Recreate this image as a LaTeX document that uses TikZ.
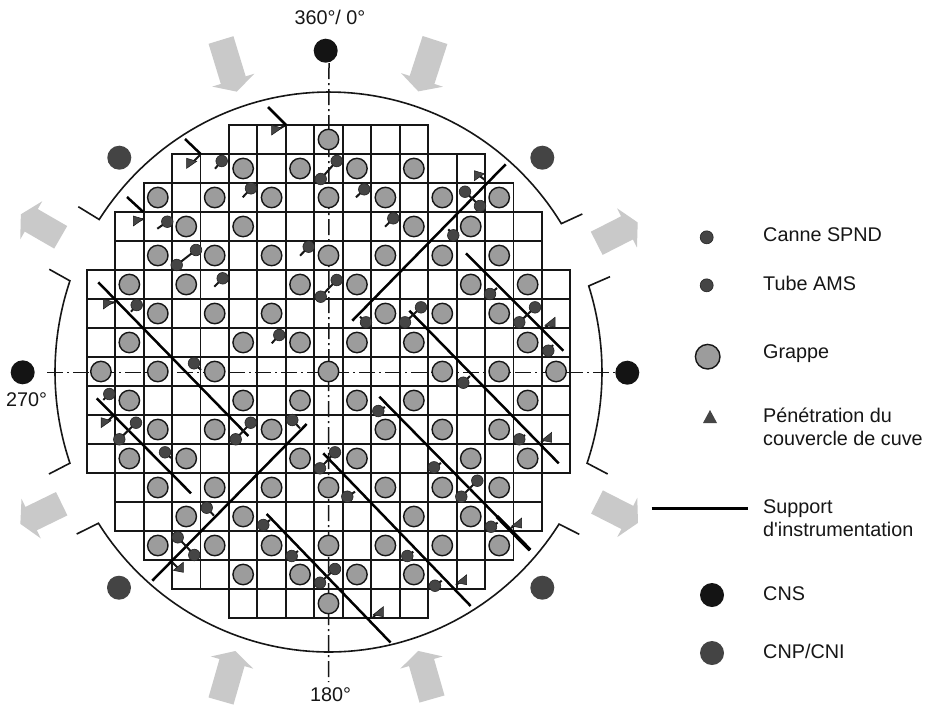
\documentclass[tikz,border=0pt]{standalone}
\usepackage{fontspec}
\newfontfamily\lblfont{Liberation Sans}
\definecolor{ink}{HTML}{161616}
\definecolor{grappefill}{HTML}{9C9C9C}
\definecolor{dotfill}{HTML}{454545}
\definecolor{arrowgray}{HTML}{C9C9C9}
\definecolor{cnp}{HTML}{444444}
\definecolor{cns}{HTML}{141414}
\tikzset{
  cellbox/.style={draw=ink,line width=1.9pt,fill=white},
  axisline/.style={draw=ink,line width=1.5pt,dash pattern=on 16pt off 4pt on 2pt off 4pt},
  rim/.style={draw=ink,line width=1.6pt,line join=miter},
  support/.style={draw=black,line width=2.5pt},
  stub/.style={draw=ink,line width=2pt},
  grappe/.style={draw=ink,line width=1.4pt,fill=grappefill},
  tinydot/.style={draw=ink!70!dotfill,line width=0.6pt,fill=dotfill},
  pennant/.style={fill=dotfill,draw=ink,line width=0.5pt},
  graybig/.style={fill=arrowgray,draw=none},
  label/.style={inner sep=0pt,text=ink,font=\lblfont\fontsize{19.8}{22.5}\selectfont,anchor=base west},
}
\newcommand{\grayarrow}[4]{% tail x, tail y, screen angle, length
  \begin{scope}[shift={(#1,#2)},rotate=#3]
    \fill[graybig] (0,-13) -- ({#4-12},-13) -- ({#4-12},-22) -- (#4,0) -- ({#4-12},22) -- ({#4-12},13) -- (0,13) -- cycle;
  \end{scope}}
\begin{document}
\begin{tikzpicture}[x=1pt,y=-1pt]
\useasboundingbox[fill=white] (0,0) rectangle (929,705);

% gray arrows
\grayarrow{221}{40}{-73}{54}
\grayarrow{435}{40}{-108}{54}
\grayarrow{221}{701}{74}{52}
\grayarrow{432}{699}{106}{50}
\grayarrow{60.7}{237.3}{150}{46}
\grayarrow{61.7}{503.7}{206}{46}
\grayarrow{596.7}{243.3}{27}{46}
\grayarrow{597}{502}{-27}{46}

% rim arcs
\draw[rim] (78.3,206.7) -- plot[domain=147:32,samples=70] ({329+274*cos(\x)},{372-280*sin(\x)}) -- (582.3,214);
\draw[rim] (76.7,534) -- plot[domain=212.7:327.1,samples=70] ({329+274*cos(\x)},{372-280*sin(\x)}) -- (579.3,534.3);
\draw[rim] (49.3,269.3) -- plot[domain=161:199,samples=30] ({329+274*cos(\x)},{372-280*sin(\x)}) -- (49,474);
\draw[rim] (610,276.7) -- plot[domain=17.9:-19,samples=30] ({328+274*cos(\x)},{372-280*sin(\x)}) -- (607.7,474);

% core grid
\foreach \k/\a/\b in {0/5/11,1/3/13,2/2/14,3/1/15,4/1/15,5/0/16,6/0/16,7/0/16,8/0/16,9/0/16,10/0/16,11/0/16,12/1/15,13/1/15,14/2/14,15/3/13,16/5/11}{
  \foreach \i in {\a,...,\b}{
    \draw[cellbox] ({86.7+28.45*\i},{125+29*\k}) rectangle ++(28.45,29);
  }
}

% axes
\draw[axisline] (329,63) -- (328.5,682);
\draw[axisline] (47,372.3) -- (616,372.3);

% detector dots
\fill[cns] (325.7,50.7) circle (12);
\fill[cns] (22.7,372.3) circle (12);
\fill[cns] (627.3,372.7) circle (12);
\fill[cnp] (119.3,157.7) circle (12);
\fill[cnp] (542.3,157.7) circle (12);
\fill[cnp] (119,587.7) circle (12);
\fill[cnp] (542.3,587.7) circle (12);

% grappes
\foreach \k/\L in {0/{8},1/{5,7,9,11},2/{2,4,6,8,10,12,14},3/{3,5,11,13},4/{2,4,6,8,10,12,14},5/{1,3,7,9,13,15},6/{2,4,6,10,12,14},7/{1,5,7,9,11,15},8/{0,2,4,8,12,14,16},9/{1,5,7,9,11,15},10/{2,4,6,10,12,14},11/{1,3,7,9,13,15},12/{2,4,6,8,10,12,14},13/{3,5,11,13},14/{2,4,6,8,10,12,14},15/{5,7,9,11},16/{8}}{
  \foreach \i in \L{
    \draw[grappe] ({100.9+28.45*\i},{139.5+29*\k}) circle (10.2);
  }
}

% pennants (penetrations)
\foreach \x/\y/\sx/\sy in {276.7/130/286/125,191.7/163.3/200/155,138.3/221/143/219,108.3/304/115/302,479.3/175.7/485/180,106/422.7/115/414}{
  \draw[stub] (\x,\y) -- (\sx,\sy);
  \draw[pennant] ({\x-5},{\y-5}) -- ({\x-5},{\y+5}) -- ({\x+5},{\y-2}) -- cycle;
}
\foreach \x/\y/\sx/\sy in {550/323.3/545/328,546.7/438.3/541/442,516.7/524/511/528,461.7/580.7/456/585,378.3/612.7/373/617,178.3/568.3/172/562}{
  \draw[stub] (\x,\y) -- (\sx,\sy);
  \draw[pennant] ({\x+5},{\y-6}) -- ({\x+5},{\y+4}) -- ({\x-5},{\y+2}) -- cycle;
}

% support lines
\draw[support] (268,107) -- (286,125);
\draw[support] (185,139) -- (200.7,154);
\draw[support] (127,197) -- (143.3,212);
\draw[support] (505.7,164.3) -- (352.3,320.7);
\draw[support] (466,253.3) -- (563.3,350.7);
\draw[support] (409.3,310.7) -- (558.7,463.3);
\draw[support] (379.3,396.7) -- (530,550);
\draw[support,line width=3.8pt] (497,516.5) -- (530,550);
\draw[support] (98.3,282.3) -- (248.3,436);
\draw[support] (96.7,398.3) -- (191,493.3);
\draw[support] (306.7,424) -- (152.3,580.7);
\draw[support] (266.7,514) -- (390.5,642.5);
\draw[support] (323.3,453.3) -- (470.7,606);

% linked pairs of small dots
\foreach \a/\b/\c/\d in {196/250/176.7/265,336.7/161/320.7/179,336.7/280/320.7/296.7,465/191.7/480/206,535/307.3/519.3/322.3,421/307.3/405/322.3,136/422.7/119.3/439.3,250.7/422.7/235.7/439.3,335/452.3/320/468.3,177.7/537.3/194.3/555,335/569/320/582.7,477.3/480.7/461.3/496.7}{
  \draw[stub] (\a,\b) -- (\c,\d);
  \draw[tinydot] (\a,\b) circle (5.8);
  \draw[tinydot] (\c,\d) circle (5.8);
}
% single small dots with a stub
\foreach \a/\b/\c/\d in {221.7/161/215/168.7,251/188.3/242.7/197.3,167.3/221.7/157.3/228.7,222.7/278.3/214.3/286.7,308.7/246.7/300/255.7,136.7/305/131/311.7,279.3/335/271.7/343.3,194/363.3/201/370,364.3/189.3/356/197.3,393.3/218.3/385/226.7,453.3/235.3/448.3/229.3,490/294/497/288,548.3/350.7/553/345,366/322.3/360/316.7,463.3/382.7/470/376,109.3/394/103.3/400,165/452.3/171/458,206.7/507.7/214/515.7,292.3/420/300/428.3,263.3/525/270/520,291.7/556/298/551,378.3/411/385/407,519.3/439.3/525/435,434/467.3/441/463,347.3/496.7/355/491.7,491/526.7/497.7/522.7,407.3/556/413.3/551.7,435/585.7/441.7/580.7}{
  \draw[stub] (\a,\b) -- (\c,\d);
  \draw[tinydot] (\a,\b) circle (5.8);
}

% angle labels
\node[label] (top) at (294.3,24.3) {360°/ 0°};
\node[label] (left) at (6,406.7) {270°};
\node[label] (bottom) at (310,701.7) {180°};

% legend
\draw[tinydot] (706.7,237.3) circle (6.5);
\node[label] (spnd) at (763,241.7) {Canne SPND};
\draw[tinydot] (706.7,285.3) circle (6.5);
\node[label] (ams) at (763,290) {Tube AMS};
\draw[grappe] (707.7,356.7) circle (12.3);
\node[label] (grp) at (763,358) {Grappe};
\fill[dotfill] (703,423) -- (717,423) -- (710,410) -- cycle;
\node[label] (pen1) at (763,422.7) {Pénétration du};
\node[label] (pen2) at (763,445) {couvercle de cuve};
\draw[support,line width=2.6pt] (651.7,508.3) -- (748.3,508.3);
\node[label] (sup1) at (763,513.3) {Support};
\node[label] (sup2) at (763,536.7) {d'instrumentation};
\fill[cns] (712,595) circle (12);
\node[label] (cnslbl) at (763,600.7) {CNS};
\fill[cnp] (712,653) circle (12);
\node[label] (cnplbl) at (763,658.3) {CNP/CNI};
\end{tikzpicture}
\end{document}
